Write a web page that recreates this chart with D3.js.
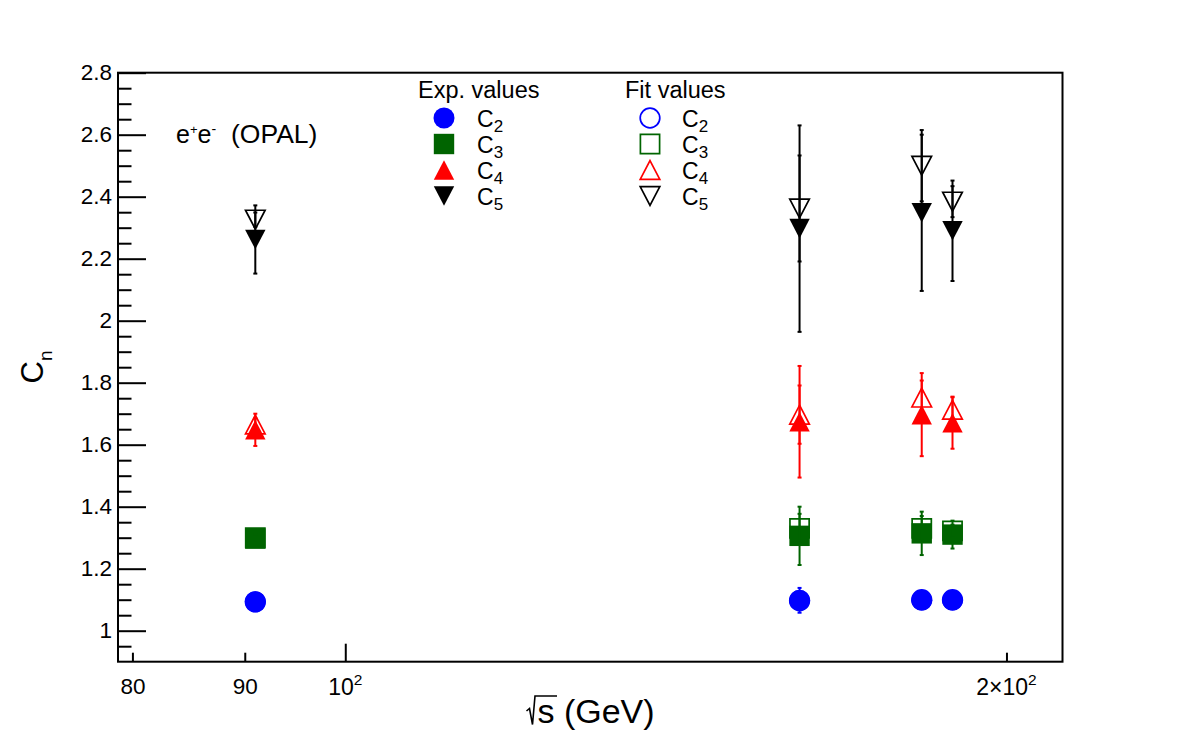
<!DOCTYPE html>
<html>
<head>
<meta charset="utf-8">
<script src="https://cdn.jsdelivr.net/npm/d3@7"></script>
<style>
  body { margin: 0; background: #fff; }
  svg { display: block; font-family: "Liberation Sans", Arial, Helvetica, sans-serif; }
</style>
</head>
<body>
<div class="chart-container"></div>
<script>
// collision energies (GeV)
const energies = [91.0, 161, 183, 189];

// experimental values and errors
const expC2 = [1.093, 1.098, 1.098, 1.098];
const expC2Err = [0.01, 0.04, 0.02, 0.02];
const expC3 = [1.297, 1.306, 1.314, 1.31];
const expC3Err = [0.02, 0.094, 0.07, 0.045];
const expC4 = [1.648, 1.674, 1.697, 1.671];
const expC4Err = [0.052, 0.18, 0.134, 0.084];
const expC5 = [2.262, 2.297, 2.348, 2.29];
const expC5Err = [0.11, 0.333, 0.252, 0.162];

// fit values and errors
const fitC2 = [1.093, 1.097, 1.1, 1.1];
const fitC2Err = [0.005, 0.01, 0.01, 0.01];
const fitC3 = [1.30, 1.33, 1.33, 1.322];
const fitC3Err = [0.01, 0.047, 0.04, 0.02];
const fitC4 = [1.665, 1.697, 1.752, 1.713];
const fitC4Err = [0.02, 0.094, 0.055, 0.04];
const fitC5 = [2.326, 2.362, 2.50, 2.384];
const fitC5Err = [0.023, 0.171, 0.115, 0.05];

const seriesNames = ["2", "3", "4", "5"];
const seriesColors = ["#0000ff", "#006400", "#ff0000", "#000000"];
const seriesShapes = ["circle", "square", "up", "down"];

const yMajorTicks = [1, 1.2, 1.4, 1.6, 1.8, 2, 2.2, 2.4, 2.6, 2.8];
const xShortTicks = [80, 90, 200];
const xLongTicks = [100];

const width = 1182;
const height = 736;
const frame = { left: 118, right: 1062.5, top: 72.7, bottom: 661.7 };

const series = seriesNames.map((n, i) => ({
    name: n,
    color: seriesColors[i],
    shape: seriesShapes[i],
    exp: [expC2, expC3, expC4, expC5][i],
    expErr: [expC2Err, expC3Err, expC4Err, expC5Err][i],
    fit: [fitC2, fitC3, fitC4, fitC5][i],
    fitErr: [fitC2Err, fitC3Err, fitC4Err, fitC5Err][i]
}));

const x = d3.scaleLog()
    .domain([78.8, 212.1])
    .range([frame.left, frame.right]);

const y = d3.scaleLinear()
    .domain([0.9, 2.8])
    .range([frame.bottom, frame.top]);

const svg = d3.select('.chart-container').append("svg")
    .attr("width", width)
    .attr("height", height)
    .attr("viewBox", [0, 0, width, height]);

svg.append("rect").attr("width", width).attr("height", height).attr("fill", "#fff");

// marker path builder
function markerPath(shape, filled) {
    const p = d3.path();
    if (shape === "circle") {
        const r = filled ? 10.5 : 9.8;
        p.arc(0, 0, r, 0, 2 * Math.PI);
    } else if (shape === "square") {
        const s = filled ? 10.2 : 9.6;
        p.rect(-s, -s, 2 * s, 2 * s);
    } else {
        const w = filled ? 10.2 : 9.8;
        const h = filled ? 9.8 : 9.4;
        const k = shape === "up" ? 1 : -1;
        p.moveTo(0, -k * h);
        p.lineTo(w, k * h);
        p.lineTo(-w, k * h);
        p.closePath();
    }
    return p.toString();
}

function drawMarker(g, shape, filled, color, cx, cy) {
    g.append("path")
        .attr("d", markerPath(shape, filled))
        .attr("transform", `translate(${cx},${cy})`)
        .attr("fill", filled ? color : "none")
        .attr("stroke", filled ? "none" : color)
        .attr("stroke-width", 1.7);
}

function drawErrors(g, vals, errs, color) {
    vals.forEach((v, i) => {
        const cx = x(energies[i]);
        const y0 = y(v - errs[i]);
        const y1 = y(v + errs[i]);
        g.append("line")
            .attr("x1", cx).attr("x2", cx)
            .attr("y1", y0).attr("y2", y1)
            .attr("stroke", color).attr("stroke-width", 2);
        [y0, y1].forEach(yy => {
            g.append("line")
                .attr("x1", cx - 2).attr("x2", cx + 2)
                .attr("y1", yy).attr("y2", yy)
                .attr("stroke", color).attr("stroke-width", 2);
        });
    });
}

// axes
svg.append("g")
    .attr("transform", `translate(${frame.left},0)`)
    .call(d3.axisLeft(y).tickValues(yMajorTicks).tickSizeInner(-28).tickSizeOuter(0).tickPadding(6)
        .tickFormat(d => d3.format("")(+d.toFixed(1))));

const yMinor = d3.range(0.95, 2.8, 0.05).filter(v => !yMajorTicks.some(t => Math.abs(t - v) < 1e-6));
svg.append("g")
    .attr("transform", `translate(${frame.left},0)`)
    .call(d3.axisLeft(y).tickValues(yMinor).tickSizeInner(-13.5).tickSizeOuter(0).tickFormat(""));

svg.append("g")
    .attr("transform", `translate(0,${frame.bottom})`)
    .call(d3.axisBottom(x).tickValues(xShortTicks).tickSizeInner(-9).tickSizeOuter(0).tickPadding(16.5)
        .tickFormat(d => d === 200 ? "" : d));

svg.append("g")
    .attr("transform", `translate(0,${frame.bottom})`)
    .call(d3.axisBottom(x).tickValues(xLongTicks).tickSizeInner(-18).tickSizeOuter(0).tickPadding(16.5)
        .tickFormat(""));

svg.selectAll(".domain").remove();
svg.selectAll(".tick line").attr("stroke", "#000").attr("stroke-width", 2);
svg.selectAll(".tick text").attr("font-size", 22.5).attr("font-family", null).attr("fill", "#000");

// power-of-ten labels
function powerLabel(value, prefix) {
    const t = svg.append("text")
        .attr("x", x(value))
        .attr("y", frame.bottom + 33)
        .attr("text-anchor", "middle")
        .attr("font-size", 23);
    t.append("tspan").text(prefix + "10");
    t.append("tspan").attr("font-size", 15.5).attr("dy", -9.5).text("2");
}
powerLabel(100, "");
powerLabel(200, "2\u00d7");

// frame
svg.append("rect")
    .attr("x", frame.left).attr("y", frame.top)
    .attr("width", frame.right - frame.left)
    .attr("height", frame.bottom - frame.top)
    .attr("fill", "none").attr("stroke", "#000").attr("stroke-width", 2);

// data
const plot = svg.append("g");
series.forEach(s => {
    drawErrors(plot, s.exp, s.expErr, s.color);
    s.exp.forEach((v, i) => drawMarker(plot, s.shape, true, s.color, x(energies[i]), y(v)));
});
series.forEach(s => {
    drawErrors(plot, s.fit, s.fitErr, s.color);
    s.fit.forEach((v, i) => drawMarker(plot, s.shape, false, s.color, x(energies[i]), y(v)));
});

// legend
const legendRows = [118, 144, 170, 196];
const legendCols = [
    { title: "Exp. values", tx: 418, mx: 444, cx: 477, filled: true },
    { title: "Fit values", tx: 625, mx: 650, cx: 682, filled: false }
];
legendCols.forEach(col => {
    svg.append("text")
        .attr("x", col.tx).attr("y", 98)
        .attr("font-size", 23.5)
        .text(col.title);
    series.forEach((s, i) => {
        drawMarker(svg, s.shape, col.filled, s.color, col.mx, legendRows[i]);
        const t = svg.append("text")
            .attr("x", col.cx).attr("y", legendRows[i] + 9)
            .attr("font-size", 23);
        t.append("tspan").text("C");
        t.append("tspan").attr("font-size", 17).attr("dy", 5).text(s.name);
    });
});

// experiment label
const lab = svg.append("text")
    .attr("x", 176).attr("y", 143.3)
    .attr("font-size", 25);
lab.append("tspan").text("e");
lab.append("tspan").attr("font-size", 13).attr("dy", -9).text("+");
lab.append("tspan").attr("dy", 9).text("e");
lab.append("tspan").attr("font-size", 14).attr("dy", -9).text("-");
lab.append("tspan").attr("x", 231).attr("dy", 9).attr("font-size", 26.5).text("(OPAL)");

// y title
const yt = svg.append("text")
    .attr("transform", "translate(42.7,383.5) rotate(-90)")
    .attr("font-size", 31);
yt.append("tspan").text("C");
yt.append("tspan").attr("font-size", 19).attr("dy", 9).text("n");

// x title with radical sign
svg.append("path")
    .attr("d", "M526.5,711 L529.5,708.5 L532.5,724.5 L535,696 L557,696")
    .attr("fill", "none").attr("stroke", "#000").attr("stroke-width", 1.6);
svg.append("text")
    .attr("x", 537.5).attr("y", 723.3)
    .attr("font-size", 34)
    .text("s (GeV)");
</script>
</body>
</html>
